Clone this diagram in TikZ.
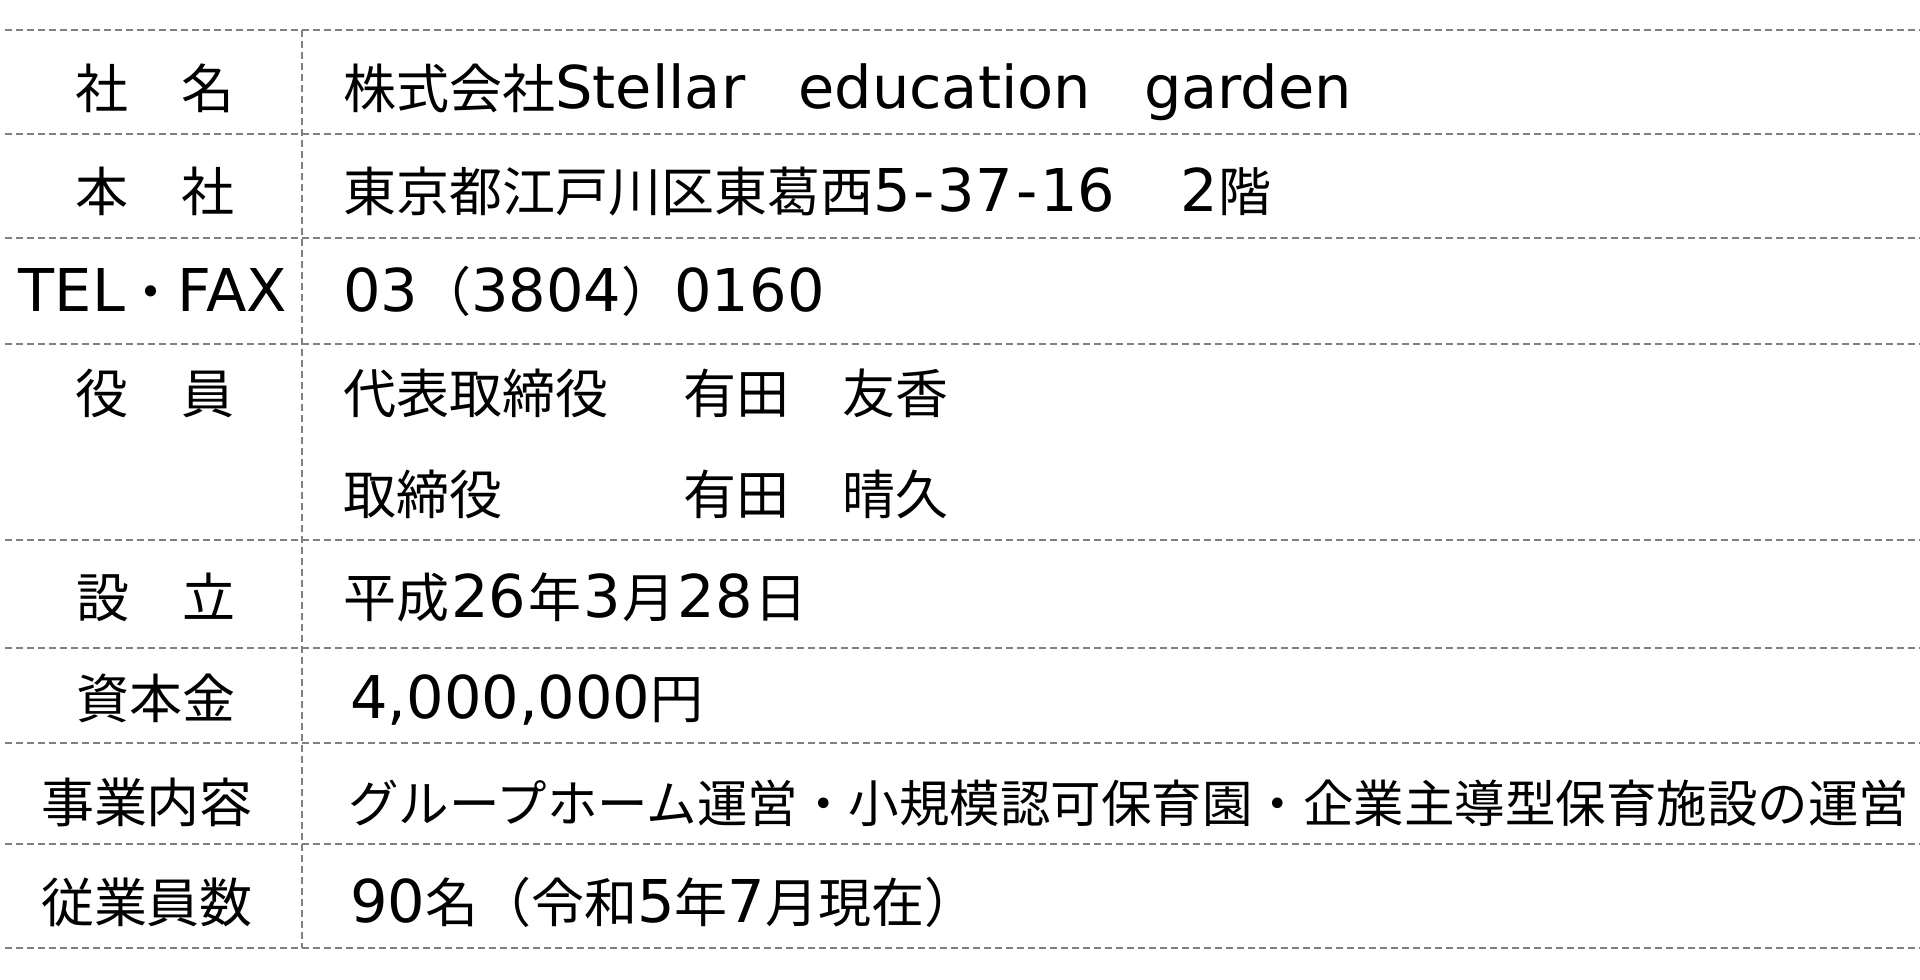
\documentclass[tikz,border=0pt]{standalone}
\usepackage{fontspec}
\setmainfont{Noto Sans CJK JP}
\newfontfamily\latfont{DejaVu Sans}
\newcommand\lt[1]{{\latfont\fontsize{59}{59}\selectfont #1}}
\begin{document}
\begin{tikzpicture}[x=1pt,y=-1pt,
  rule/.style={draw=black!50,line width=1.2pt,dash pattern=on 7pt off 4pt},
  lab/.style={anchor=base,inner sep=0pt,font=\fontsize{53}{53}\selectfont},
  val/.style={anchor=base west,inner sep=0pt,font=\fontsize{53}{53}\selectfont}]
\useasboundingbox (0,0) rectangle (1920,980);
\fill[white] (0,0) rectangle (1920,980);
% rules
\foreach \yy in {30,134,238,344,540,648,743,844,948}
  \draw[rule] (5,\yy) -- (1920,\yy);
\draw[rule] (302,30) -- (302,948);
% labels
\node[lab] (l1) at (155,108) {社　名};
\node[lab] (l2) at (155,211) {本　社};
\node[lab] (l3) at (153,311) {\lt{TEL}・\lt{FAX}};
\node[lab] (l4) at (155,413) {役　員};
\node[lab] (l5) at (156,617) {設　立};
\node[lab] (l6) at (156,718) {資本金};
\node[lab] (l7) at (147,822) {事業内容};
\node[lab] (l8) at (147,922) {従業員数};
% values
\node[val] (v1) at (343,108) {株式会社\lt{Stellar}　\lt{education}　\lt{garden}};
\node[val] (v2) at (343,211) {東京都江戸川区東葛西\lt{5\kern3pt-\kern3pt37\kern3pt-\kern3pt16}\kern12pt　\lt{2}階};
\node[val] (v3) at (343,311) {\lt{03}（\lt{3804}）\lt{0160}};
\node[val] (v4a) at (343,413) {代表取締役};
\node[val] (v4b) at (683,413) {有田　友香};
\node[val] (v4c) at (343,514) {取締役};
\node[val] (v4d) at (683,514) {有田　晴久};
\node[val] (v5) at (343,617) {平成\kern2pt\lt{26}\kern2pt年\kern2pt\lt{3}\kern2pt月\kern2pt\lt{28}\kern2pt日};
\node[val] (v6) at (350,718) {\lt{4,000,000}円};
\node[val,font=\fontsize{50.5}{50.5}\selectfont] (v7) at (348,822) {グループホーム運営・小規模認可保育園・企業主導型保育施設の運営};
\node[val] (v8) at (350,922) {\lt{90}名（令和\lt{5}年\lt{7}月現在）};
\end{tikzpicture}
\end{document}
